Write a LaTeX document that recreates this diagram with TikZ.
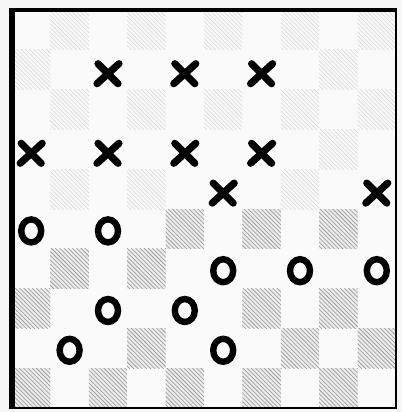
\documentclass[tikz,border=0pt]{standalone}
\usetikzlibrary{patterns,calc}
\begin{document}
\begin{tikzpicture}[x=0.25mm,y=-0.25mm,
  xpiece/.style={line width=1.8mm,line cap=round,black},
  opiece/.style={line width=1.6mm,black},
  fr/.style={black}]
\useasboundingbox (0,0) rectangle (402,412);
\fill[gray!6] (0,0) rectangle (402,412);
\fill[white!96!gray] (12,10) rectangle (396,408);
\def\sx{38.4}\def\sy{39.8}
% occupied squares
\foreach \r/\c in {1/2,1/4,1/6,3/0,3/2,3/4,3/6,4/5,4/9,5/0,5/2,6/5,6/7,6/9,7/2,7/4,8/1,8/5}{
  \global\expandafter\let\csname occ-\r-\c\endcsname\relax
}
% dark squares
\foreach \r in {0,...,9}{
  \foreach \c in {0,...,9}{
    \pgfmathtruncatemacro{\parity}{mod(\r+\c,2)}
    \ifnum\parity=1
      \ifcsname occ-\r-\c\endcsname\else
      \pgfmathsetmacro{\xa}{12+\c*\sx}
      \pgfmathsetmacro{\ya}{10+\r*\sy}
      \ifnum\r<5
        \fill[fill=gray!5] (\xa,\ya) rectangle ++(\sx,\sy);
        \fill[pattern=north west lines,pattern color=gray!30] (\xa,\ya) rectangle ++(\sx,\sy);
      \else
        \fill[fill=gray!15] (\xa,\ya) rectangle ++(\sx,\sy);
        \fill[pattern=north west lines,pattern color=gray!85] (\xa,\ya) rectangle ++(\sx,\sy);
      \fi
      \fi
    \fi
  }
}
% X pieces
\foreach \r/\c in {1/2,1/4,1/6,3/0,3/2,3/4,3/6,4/5,4/9}{
  \coordinate (x\r\c) at ({12+(\c+0.5)*\sx},{10+(\r+0.5)*\sy+4});
  \draw[xpiece] ($(x\r\c)+(-11,10)$) -- ($(x\r\c)+(11,-10)$);
  \draw[xpiece] ($(x\r\c)+(-10,-10)$) -- ($(x\r\c)+(10,10)$);
}
% O pieces
\foreach \r/\c in {5/0,5/2,6/5,6/7,6/9,7/2,7/4,8/1,8/5}{
  \coordinate (o\r\c) at ({12+(\c+0.5)*\sx},{10+(\r+0.5)*\sy+2});
  \draw[opiece] (o\r\c) ellipse [x radius=10,y radius=11.5];
}
% frame
\draw[fr,line width=1.3mm] (12,8) -- (12,409);
\draw[fr,line width=1mm] (10,10) -- (397,10);
\draw[fr,line width=0.7mm] (396,9) -- (396,409);
\draw[fr,line width=0.7mm] (10,408) -- (397,408);
\end{tikzpicture}
\end{document}
